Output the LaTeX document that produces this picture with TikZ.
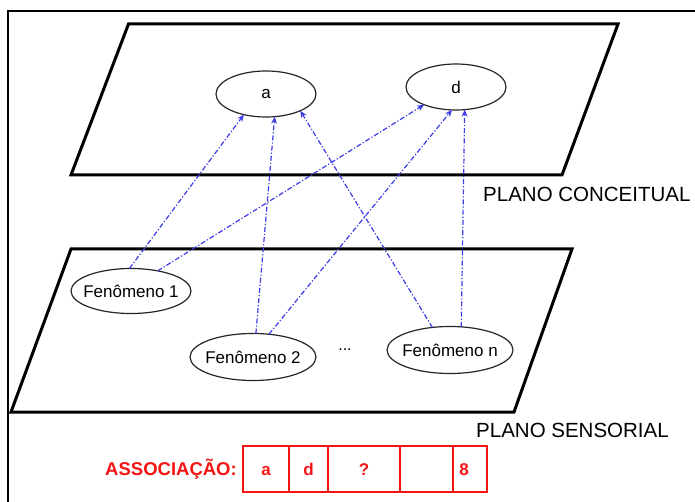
\documentclass[tikz,border=0pt]{standalone}
\usepackage{fontspec}
\setmainfont{Liberation Sans}
\usetikzlibrary{shapes.geometric,arrows.meta}
\definecolor{linkblue}{RGB}{60,60,230}
\definecolor{assocred}{RGB}{245,20,20}
\newcommand{\zw}[1]{\makebox[0pt]{#1}}
\begin{document}
\begin{tikzpicture}[x=1pt,y=-1pt,
  plane/.style={draw=black,line width=3pt,line join=miter,fill=white},
  concept/.style={ellipse,draw=black!85,line width=1.2pt,inner sep=0pt,outer sep=0pt,
    minimum width=100pt,minimum height=46pt,font=\fontsize{17}{19}\selectfont},
  phen/.style={ellipse,draw=black!85,line width=1.2pt,inner sep=0pt,outer sep=0pt,
    minimum width=124pt,minimum height=46pt,font=\fontsize{17}{19}\selectfont},
  link/.style={draw=linkblue,line width=1.2pt,dash pattern=on 5pt off 2pt on 1.2pt off 2pt,
    -{Stealth[length=7pt,width=6pt]}},
  planelabel/.style={anchor=west,inner sep=0pt,font=\fontsize{20.5}{23}\selectfont},
  cell/.style={draw=assocred,line width=1.2pt,minimum height=46pt,inner sep=0pt,outer sep=0pt,
    text height=12pt,text depth=0pt,
    text=assocred,font=\bfseries\fontsize{17}{19}\selectfont},
  assoc/.style={anchor=east,inner sep=0pt,text=assocred,font=\bfseries\fontsize{18.5}{20}\selectfont}]
\useasboundingbox (0,0) rectangle (695,502);
% frame
\draw[line width=1.5pt] (8,502) -- (8,11) -- (695,11);
% planes
\draw[plane] (128.5,24) -- (618,24) -- (562,175) -- (71,175) -- cycle;
\draw[plane] (71,249) -- (572,249) -- (514,412) -- (11,412) -- cycle;
% concepts
\node[concept] (a) at (266,94) {a};
\node[concept] (d) at (456,87) {d};
% phenomena
\node[phen,minimum width=120pt,minimum height=45pt] (f1) at (131,291) {\zw{Fenômeno 1}};
\node[phen,minimum width=126pt,minimum height=47pt] (f2) at (253,357) {\zw{Fenômeno 2}};
\node[phen,minimum width=126pt,minimum height=47pt] (fn) at (450,350) {\zw{Fenômeno n}};
\node[font=\fontsize{16}{18}\selectfont] (dots) at (345,350) {...};
% links
\draw[link] (f1.94) -- (a.223);
\draw[link] (f1.37) -- (d.209);
\draw[link] (f2.83) -- (a.291);
\draw[link] (f2.55) -- (d.260);
\draw[link] (fn.128) -- (a.334);
\draw[link] (fn.64) -- (d.291);
% labels
\node[planelabel] (pc) at (483,194) {PLANO CONCEITUAL};
\node[planelabel] (ps) at (476,430) {PLANO SENSORIAL};
% association
\node[cell,minimum width=46pt] (c1) at (266,469) {a};
\node[cell,minimum width=39pt] (c2) at (308.5,469) {d};
\node[cell,minimum width=72pt] (c3) at (364,469) {?};
\node[cell,minimum width=53pt] (c4) at (426.5,469) {};
\node[cell,minimum width=34pt] (c5) at (470,469) {\hspace*{-12pt}8};
\draw[draw=assocred,line width=2.5pt] (c1.north west) rectangle (c5.south east);
\node[assoc] (lab) at (237,469) {ASSOCIAÇÃO:};
\end{tikzpicture}
\end{document}
